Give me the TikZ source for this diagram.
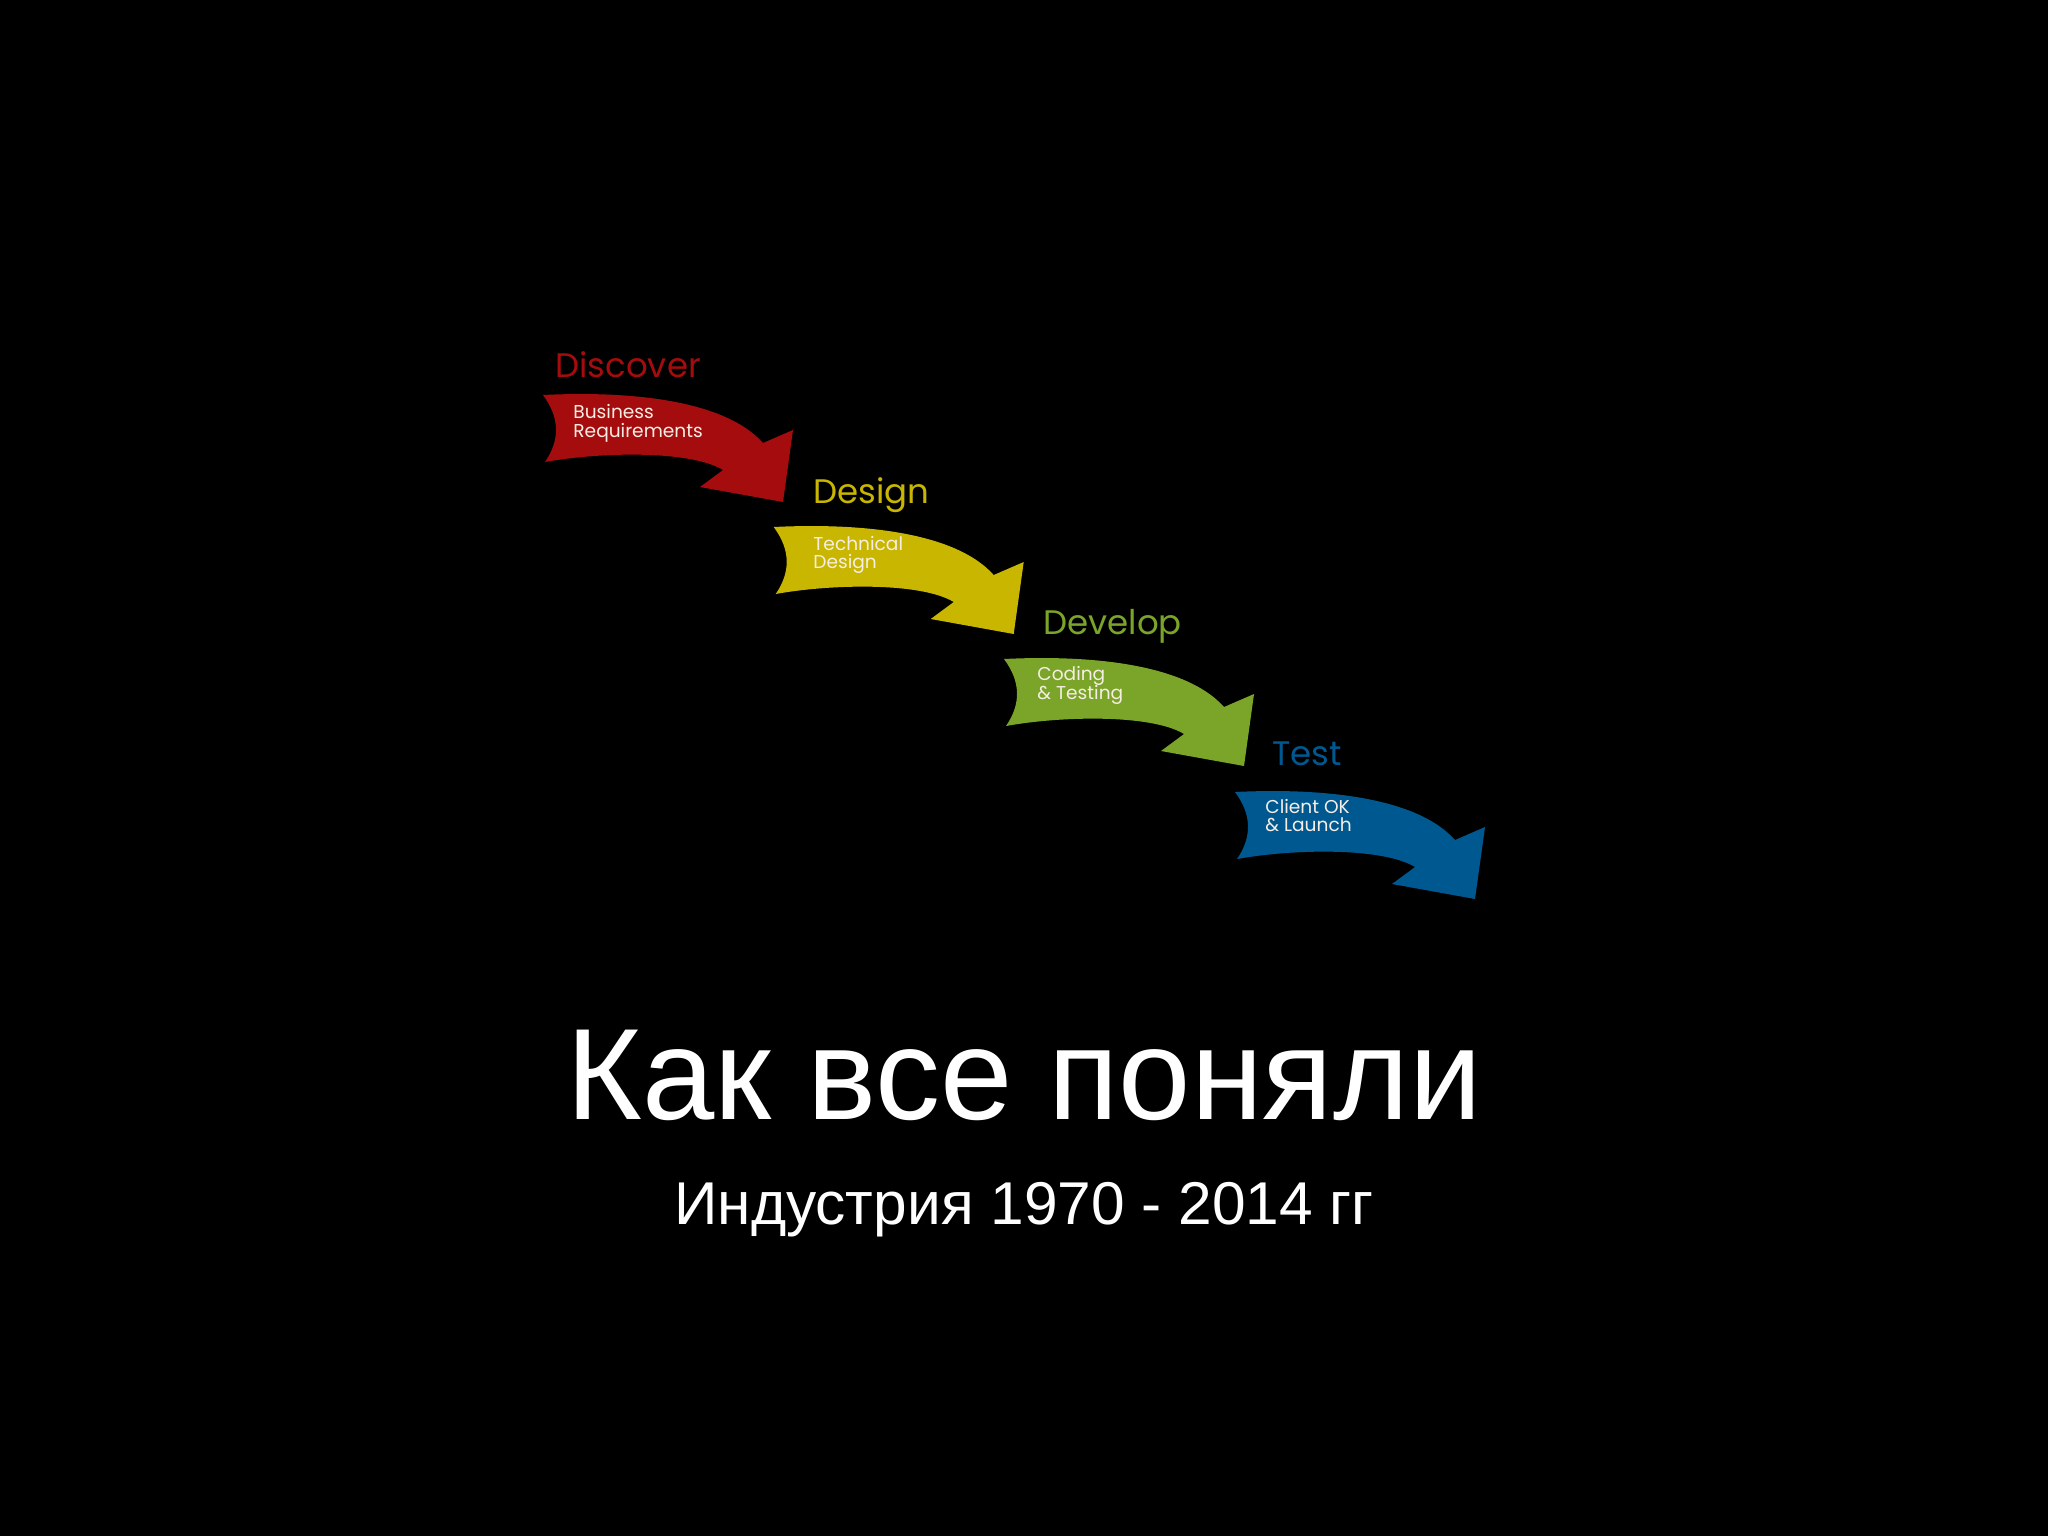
\documentclass[tikz,border=0pt]{standalone}
\usepackage{fontspec}
\setmainfont{Liberation Sans}
\newfontfamily\arrowfont{Poppins}
\definecolor{cRed}{RGB}{165,12,14}
\definecolor{cYel}{RGB}{200,182,0}
\definecolor{cGrn}{RGB}{122,165,40}
\definecolor{cBlu}{RGB}{0,88,145}
\definecolor{cTxt}{RGB}{246,238,228}
\newcommand\stagearrow[3]{%
  \fill[#3, shift={(#1,#2)}] (0,0) .. controls (80,-4) and (180,3) .. (220,48)
    -- (250,35) -- (240,107) -- (157,92) -- (180,75)
    .. controls (147,55) and (57,57) .. (2,67)
    .. controls (17,45) and (17,23) .. (0,0) -- cycle;}
\begin{document}
\begin{tikzpicture}[x=0.5pt,y=-0.5pt,
  stagetitle/.style={anchor=base west, inner sep=0, font=\arrowfont\fontsize{17}{20}\selectfont},
  stagetext/.style={anchor=base west, inner sep=0, text=cTxt, font=\arrowfont\fontsize{9.3}{11}\selectfont},
  bigtitle/.style={anchor=base, inner sep=0, text=white, font=\fontsize{65}{70}\selectfont},
  subtitle/.style={anchor=base, inner sep=0, text=white, font=\fontsize{30.2}{36}\selectfont}]
\useasboundingbox (0,0) rectangle (2048,1536);
\fill[black] (0,0) rectangle (2048,1536);

\stagearrow{543}{395}{cRed}
\stagearrow{773.7}{527}{cYel}
\stagearrow{1004}{659}{cGrn}
\stagearrow{1235}{792}{cBlu}

\node[stagetitle, text=cRed] (t1) at (555,377) {Discover};
\node[stagetext] (b1a) at (573,418) {Business};
\node[stagetext] (b1b) at (573,437) {Requirements};

\node[stagetitle, text=cYel] (t2) at (813,503) {Design};
\node[stagetext] (b2a) at (813,550) {Technical};
\node[stagetext] (b2b) at (813,568) {Design};

\node[stagetitle, text=cGrn] (t3) at (1043,634) {Develop};
\node[stagetext] (b3a) at (1037,680) {Coding};
\node[stagetext] (b3b) at (1037,699) {\& Testing};

\node[stagetitle, text=cBlu] (t4) at (1272,765) {Test};
\node[stagetext] (b4a) at (1265,813) {Client OK};
\node[stagetext] (b4b) at (1265,831) {\& Launch};

\node[bigtitle] (main) at (1024,1119) {Как все поняли};
\node[subtitle] (sub) at (1024,1224) {Индустрия 1970 - 2014 гг};
\end{tikzpicture}
\end{document}
